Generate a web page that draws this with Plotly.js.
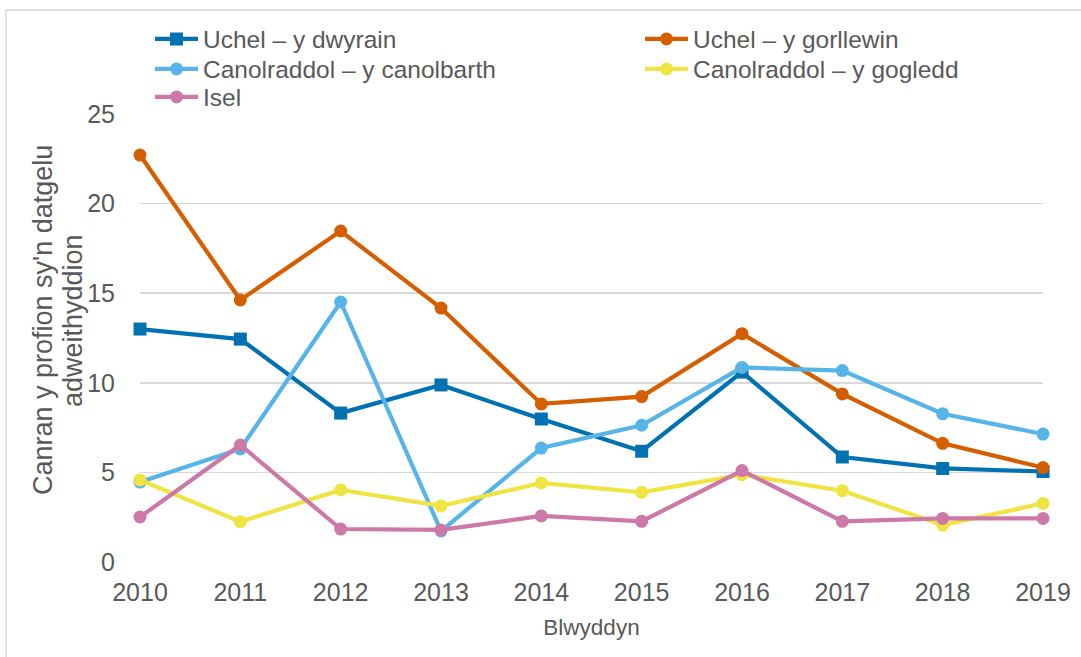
<!DOCTYPE html>
<html>
<head>
<meta charset="utf-8">
<script src="https://cdn.plot.ly/plotly-3.0.1.min.js"></script>
<style>
html,body{margin:0;padding:0;background:#fff;}
#chart{width:1081px;height:657px;}
</style>
</head>
<body>
<div id="chart"></div>
<script>
const years = [2010, 2011, 2012, 2013, 2014, 2015, 2016, 2017, 2018, 2019];
const seriesNames = [
  "Uchel \u2013 y dwyrain",
  "Uchel \u2013 y gorllewin",
  "Canolraddol \u2013 y canolbarth",
  "Canolraddol \u2013 y gogledd",
  "Isel"
];
const uchelDwyrain = [13.0, 12.44, 8.31, 9.88, 7.98, 6.18, 10.6, 5.86, 5.22, 5.05];
const uchelGorllewin = [22.71, 14.62, 18.47, 14.17, 8.82, 9.23, 12.74, 9.38, 6.62, 5.27];
const canolCanolbarth = [4.46, 6.31, 14.51, 1.73, 6.36, 7.63, 10.86, 10.68, 8.27, 7.14];
const canolGogledd = [4.58, 2.25, 4.02, 3.13, 4.41, 3.89, 4.87, 3.98, 2.06, 3.27];
const isel = [2.51, 6.53, 1.84, 1.79, 2.57, 2.27, 5.1, 2.27, 2.43, 2.43];
const yTitleLines = ["Canran y profion sy'n datgelu", "adweithyddion"];
const xTitle = "Blwyddyn";
const colors = ["#0072B2", "#D55E00", "#56B4E9", "#F0E442", "#CC79A7"];
const symbols = ["square", "circle", "circle", "circle", "circle"];
const allValues = [uchelDwyrain, uchelGorllewin, canolCanolbarth, canolGogledd, isel];

const legendIds = ["legend", "legend2", "legend3", "legend4", "legend5"];
const traces = allValues.map((vals, i) => ({
  x: years,
  y: vals,
  name: seriesNames[i],
  type: "scatter",
  mode: "lines+markers",
  line: {color: colors[i], width: 4.2},
  marker: {color: colors[i], size: 13, symbol: symbols[i]},
  cliponaxis: false,
  legend: legendIds[i]
}));

const L = 140, R = 1043, T = 114, B = 562;
const pw = R - L, ph = B - T;
const px = v => (v - L) / pw;
const py = v => (B - v) / ph;

// legend slots (pixel positions of each legend entry)
const legendPos = [[150, 39], [640, 39], [150, 69], [640, 69], [150, 97]];

const layout = {
  width: 1081,
  height: 657,
  margin: {l: L, r: 1081 - R, t: T, b: 657 - B, pad: 0},
  paper_bgcolor: "#ffffff",
  plot_bgcolor: "#ffffff",
  font: {family: "Liberation Sans, Arial, sans-serif", color: "#595959", size: 25},
  showlegend: true,
  xaxis: {
    range: [2010, 2019],
    tickvals: years,
    ticktext: years.map(String),
    showgrid: false,
    zeroline: false,
    showline: false,
    ticks: "outside",
    ticklen: 8,
    tickcolor: "rgba(0,0,0,0)",
    tickfont: {size: 25, color: "#595959"},
    title: {text: xTitle, font: {size: 22.5, color: "#595959"}, standoff: 14}
  },
  yaxis: {
    range: [0, 25],
    tickvals: [0, 5, 10, 15, 20, 25],
    showgrid: true,
    gridcolor: "#d9d9d9",
    gridwidth: 1.5,
    zeroline: false,
    showline: false,
    ticks: "outside",
    ticklen: 19,
    tickcolor: "rgba(0,0,0,0)",
    tickfont: {size: 25, color: "#595959"}
  },
  annotations: [
    {
      text: yTitleLines[0], textangle: -90,
      xref: "paper", yref: "paper", x: px(43), y: py(320),
      xanchor: "center", yanchor: "middle", showarrow: false,
      font: {size: 27, color: "#595959"}
    },
    {
      text: yTitleLines[1], textangle: -90,
      xref: "paper", yref: "paper", x: px(73), y: py(321),
      xanchor: "center", yanchor: "middle", showarrow: false,
      font: {size: 27, color: "#595959"}
    }
  ],
  shapes: [{
    type: "rect",
    xref: "paper", yref: "paper",
    x0: px(6), x1: px(1200),
    y0: py(800), y1: py(10),
    line: {color: "#d9d9d9", width: 1.5},
    fillcolor: "rgba(0,0,0,0)",
    layer: "below"
  }]
};

legendIds.forEach((id, i) => {
  layout[id] = {
    x: px(legendPos[i][0]), xanchor: "left",
    y: py(legendPos[i][1]), yanchor: "middle",
    font: {size: 24.5, color: "#595959"},
    bgcolor: "rgba(0,0,0,0)",
    itemwidth: 43
  };
});

Plotly.newPlot("chart", traces, layout, {displayModeBar: false, staticPlot: true});
</script>
</body>
</html>
